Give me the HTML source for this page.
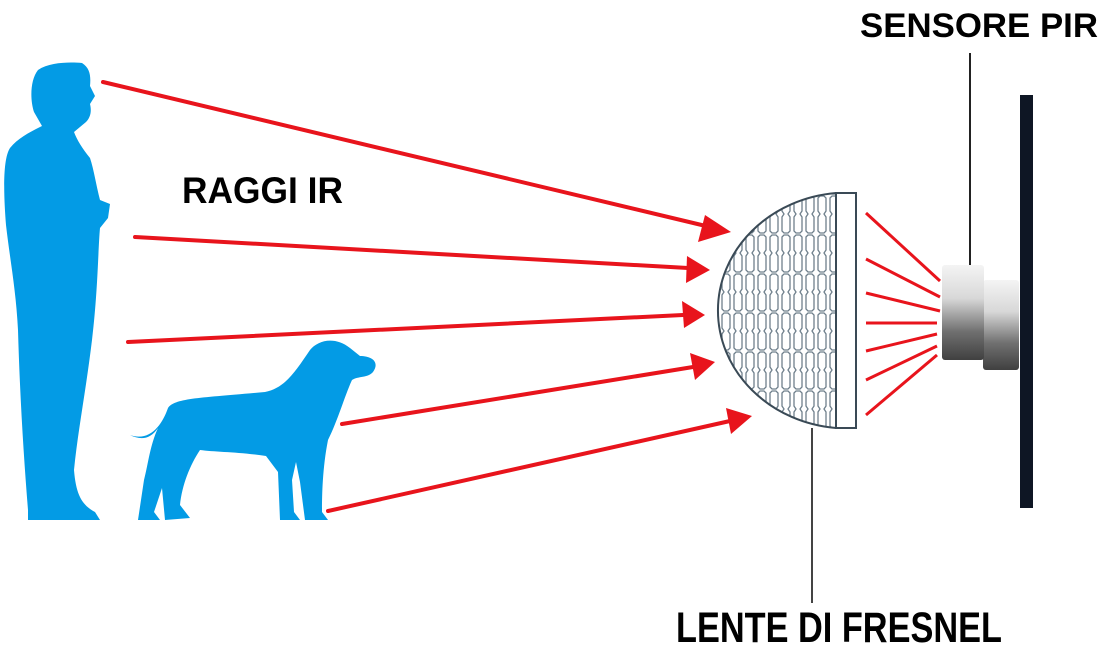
<!DOCTYPE html>
<html><head><meta charset="utf-8"><style>
html,body{margin:0;padding:0;background:#fff;}
svg{display:block;}
text{font-family:"Liberation Sans",sans-serif;font-weight:bold;fill:#000;}
</style></head><body>
<svg width="1108" height="650" viewBox="0 0 1108 650" xmlns="http://www.w3.org/2000/svg">
<defs>
<pattern id="hc" x="708" y="195" width="12" height="39" patternUnits="userSpaceOnUse">
<path d="M2,3 L4,1 L8,1 L10,3 L10,16 L8,19 L10,22 L10,36 L8,38 L4,38 L2,36 L2,22 L4,19 L2,16 Z" fill="none" stroke="#6f808c" stroke-width="1.3"/>
</pattern>
<clipPath id="half"><path d="M836,193 A130,118 0 0 0 836,428 Z"/></clipPath>
<linearGradient id="g1" x1="0" y1="0" x2="0" y2="1">
<stop offset="0" stop-color="#f4f4f4"/><stop offset="0.35" stop-color="#d8d8d8"/><stop offset="0.7" stop-color="#707070"/><stop offset="1" stop-color="#404040"/>
</linearGradient>
</defs>

<path fill="#039be5" d="M82,63 C70,62 50,62 38,70 C30,80 30,100 34,112 L42,126 C30,132 18,138 10,148 C2,160 4,200 6,225 C10,260 16,290 18,330 C20,400 24,460 28,510 L28,520 L100,520 L95,512 C82,505 76,495 74,470 C78,430 86,390 92,340 C98,290 98,250 100,228 L108,218 L110,204 L100,200 C96,185 94,170 90,158 C82,148 77,140 74,132 L86,122 C90,118 92,112 90,104 L95,96 L90,86 C91,76 90,68 82,63 Z"/>
<path fill="#039be5" d="M130,435 C150,442 162,425 168,408 C175,398 200,398 265,392 C285,388 295,372 310,350 C318,340 335,336 350,348 L360,356 C372,356 380,362 373,372 C368,378 358,376 352,380 C345,395 338,420 328,440 C322,470 322,500 322,512 L328,520 L305,520 L300,482 L296,462 L292,480 L294,512 L300,520 L280,520 L278,472 L266,456 C240,452 215,452 200,450 C190,465 182,485 180,505 L190,518 L165,520 L162,488 L154,512 L160,520 L138,520 L144,480 C148,465 150,445 158,428 C150,440 140,440 130,435 Z"/>

<g stroke="#e8141c" stroke-width="4" stroke-linecap="round" fill="none">
<line x1="103" y1="82" x2="710" y2="227"/>
<line x1="135" y1="237" x2="688" y2="268"/>
<line x1="128" y1="342" x2="683" y2="315"/>
<line x1="342" y1="424" x2="693" y2="367"/>
<line x1="328" y1="511" x2="730" y2="421"/>
</g>
<g fill="#e8141c">
<polygon points="731,232 705,215 698,242"/>
<polygon points="710,270 687,256 686,283"/>
<polygon points="705,315 682,301 684,328"/>
<polygon points="715,362 690,353 695,380"/>
<polygon points="752,416 726,408 731,434"/>
</g>
<g stroke="#e8141c" stroke-width="3" fill="none">
<line x1="866" y1="213" x2="940" y2="281"/>
<line x1="866" y1="259" x2="940" y2="297"/>
<line x1="866" y1="293" x2="940" y2="311"/>
<line x1="866" y1="323" x2="937" y2="323"/>
<line x1="866" y1="351" x2="937" y2="334"/>
<line x1="866" y1="380" x2="937" y2="346"/>
<line x1="866" y1="415" x2="937" y2="355"/>
</g>

<rect x="704" y="190" width="136" height="240" fill="url(#hc)" clip-path="url(#half)"/>
<path d="M836,193 A130,118 0 0 0 836,428" fill="none" stroke="#3a4a56" stroke-width="2"/>
<rect x="836" y="193" width="20" height="235" fill="#fff" stroke="#3a4a56" stroke-width="2"/>
<line x1="812" y1="428" x2="812" y2="603" stroke="#444" stroke-width="2"/>

<rect x="983" y="280" width="36" height="90" rx="3" fill="url(#g1)"/>
<rect x="942" y="265" width="42" height="95" rx="3" fill="url(#g1)"/>
<line x1="970" y1="53" x2="970" y2="265" stroke="#222" stroke-width="2"/>
<rect x="1020" y="95" width="13" height="413" fill="#0e1624"/>

<text x="860" y="37" font-size="34" textLength="238" lengthAdjust="spacingAndGlyphs">SENSORE PIR</text>
<text x="182" y="203" font-size="37" textLength="161" lengthAdjust="spacingAndGlyphs">RAGGI IR</text>
<text x="676" y="642" font-size="43" textLength="326" lengthAdjust="spacingAndGlyphs">LENTE DI FRESNEL</text>
</svg>
</body></html>
